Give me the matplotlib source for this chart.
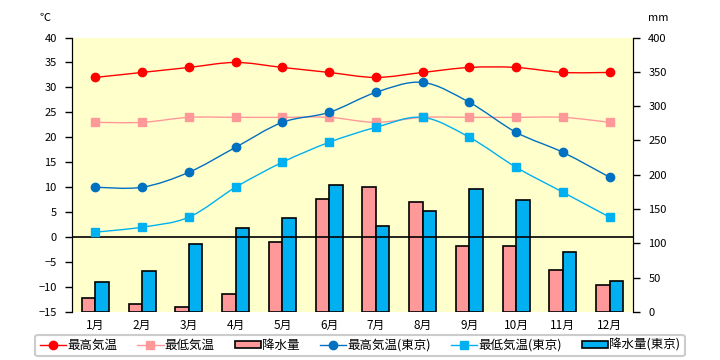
import matplotlib
matplotlib.use("Agg")
import matplotlib.pyplot as plt
import numpy as np
from matplotlib.patches import Patch, PathPatch
from matplotlib.path import Path
from matplotlib.lines import Line2D

plt.rcParams['font.family'] = ['Noto Sans CJK JP', 'DejaVu Sans']

months = ['1月', '2月', '3月', '4月', '5月', '6月', '7月', '8月', '9月', '10月', '11月', '12月']
max_temp = [32, 33, 34, 35, 34, 33, 32, 33, 34, 34, 33, 33]
min_temp = [23, 23, 24, 24, 24, 24, 23, 24, 24, 24, 24, 23]
precip = [21, 11, 8, 26, 102, 164, 182, 160, 96, 96, 61, 40]
tokyo_max = [10, 10, 13, 18, 23, 25, 29, 31, 27, 21, 17, 12]
tokyo_min = [1, 2, 4, 10, 15, 19, 22, 24, 20, 14, 9, 4]
tokyo_precip = [43, 60, 99, 123, 137, 185, 125, 147, 179, 163, 88, 45]

c_red = '#FF0000'
c_pink = '#FF9999'
c_dblue = '#0070C0'
c_lblue = '#00B0F0'

fig = plt.figure(figsize=(7.2, 3.6), dpi=100)
L, R, B, T = 72/720, 633/720, 1 - 312/360, 1 - 37.5/360
ax2 = fig.add_axes([L, B, R - L, T - B])
ax = ax2.twinx()
ax.yaxis.set_ticks_position('left')
ax2.yaxis.set_ticks_position('right')
ax.set_zorder(ax2.get_zorder() + 1)
ax.patch.set_visible(False)
ax2.set_facecolor('#FFFFCC')

x = np.arange(len(months))
w = 0.29
ax2.bar(x - w/2, precip, w, color=c_pink, edgecolor='black', linewidth=1.2)
ax2.bar(x + w/2, tokyo_precip, w, color=c_lblue, edgecolor='black', linewidth=1.2)
ax2.set_ylim(0, 400)
ax2.set_xlim(-0.5, 11.5)
ax2.set_yticks(range(0, 401, 50))

ax.axhline(0, color='black', linewidth=1.2)


def smooth_line(a, xs, ys, color, marker):
    """Excel-like smoothed line (Bezier through the data points) + markers."""
    pts = np.column_stack([xs, ys]).astype(float)
    n = len(pts)
    verts = [pts[0]]
    codes = [Path.MOVETO]
    for i in range(n - 1):
        p0 = pts[i - 1] if i > 0 else pts[i]
        p1 = pts[i]
        p2 = pts[i + 1]
        p3 = pts[i + 2] if i + 2 < n else pts[i + 1]
        c1 = p1 + (p2 - p0) / 6.0
        c2 = p2 - (p3 - p1) / 6.0
        verts += [c1, c2, p2]
        codes += [Path.CURVE4] * 3
    a.add_patch(PathPatch(Path(verts, codes), facecolor='none', edgecolor=color,
                          linewidth=1, zorder=2))
    a.plot(xs, ys, linestyle='none', marker=marker, markersize=6, color=color, zorder=3)


smooth_line(ax, x, max_temp, c_red, 'o')
smooth_line(ax, x, min_temp, c_pink, 's')
smooth_line(ax, x, tokyo_max, c_dblue, 'o')
smooth_line(ax, x, tokyo_min, c_lblue, 's')
ax.set_ylim(-15, 40)
ax.set_yticks(range(-15, 41, 5))
ax.set_xlim(-0.5, 11.5)
ax2.set_xticks(x)
ax2.set_xticklabels(months)

for a in (ax, ax2):
    for s in ('top', 'bottom'):
        a.spines[s].set_visible(False)
    a.spines['left'].set_color('black')
    a.spines['right'].set_color('black')
ax.tick_params(axis='y', direction='out', length=5, width=1, labelsize=8, pad=6)
ax2.tick_params(axis='y', direction='out', length=5, width=1, labelsize=8, pad=6)
ax2.tick_params(axis='x', length=0, labelsize=8.5, pad=5)
ax.tick_params(axis='x', length=0, labelbottom=False)

fig.text(45/720, 1 - 18/360, '℃', fontsize=8, ha='center', va='center')
fig.text(658/720, 1 - 18/360, 'mm', fontsize=8, ha='center', va='center')

handles = [
    Line2D([], [], color=c_red, marker='o', markersize=6, linewidth=1),
    Line2D([], [], color=c_pink, marker='s', markersize=6, linewidth=1),
    Patch(facecolor=c_pink, edgecolor='black', linewidth=1.2),
    Line2D([], [], color=c_dblue, marker='o', markersize=6, linewidth=1),
    Line2D([], [], color=c_lblue, marker='s', markersize=6, linewidth=1),
    Patch(facecolor=c_lblue, edgecolor='black', linewidth=1.2),
]
labels = ['最高気温', '最低気温', '降水量', '最高気温(東京)', '最低気温(東京)', '降水量(東京)']
leg = fig.legend(handles, labels, loc='center', bbox_to_anchor=(360/720, 1 - 345.5/360),
                 ncol=6, fontsize=9, frameon=True, fancybox=True, edgecolor='#C0C0C0',
                 handlelength=2.1, handleheight=0.45, handletextpad=0.1, columnspacing=1.6,
                 borderpad=0.35)
leg.get_frame().set_linewidth(1.5)

fig.savefig('out.png', dpi=100)
